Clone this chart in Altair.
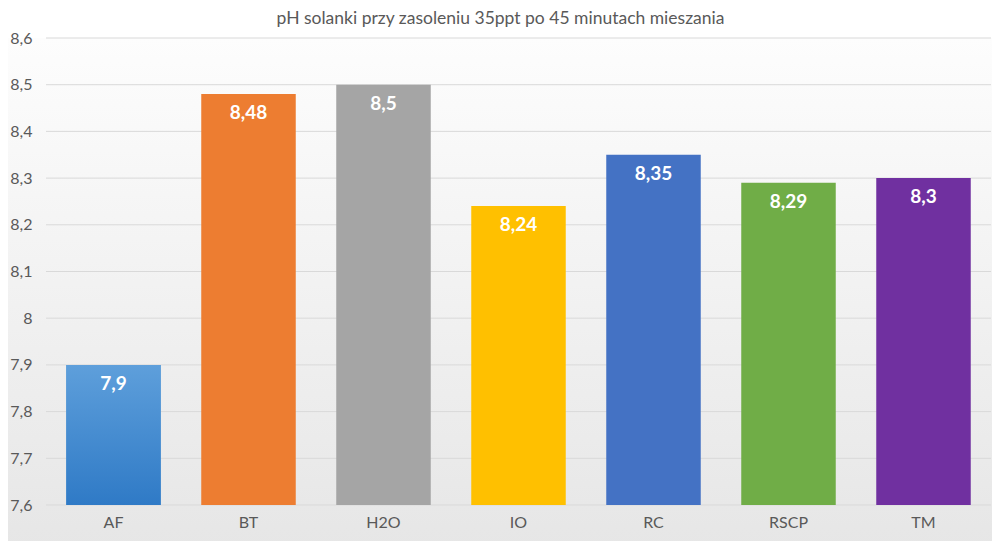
import altair as alt
import pandas as pd

categories = ["AF", "BT", "H2O", "IO", "RC", "RSCP", "TM"]
values = [7.9, 8.48, 8.5, 8.24, 8.35, 8.29, 8.3]
colors = ["#5b9bd5", "#ed7d31", "#a5a5a5", "#ffc000", "#4472c4", "#70ad47", "#7030a0"]
y_ticks = [7.6, 7.7, 7.8, 7.9, 8.0, 8.1, 8.2, 8.3, 8.4, 8.5, 8.6]
title_text = "pH solanki przy zasoleniu 35ppt po 45 minutach mieszania"

FONT = "Lato"
W, H = 945, 467

df = pd.DataFrame({"cat": categories, "val": values, "base": [7.6] * len(values)})
ticks_df = pd.DataFrame({"t": y_ticks})

yscale = alt.Scale(domain=[7.6, 8.6], zero=False, nice=False)
xscale = alt.Scale(domain=categories, paddingInner=0.3, paddingOuter=0.15)

bg = alt.Chart(pd.DataFrame({"a": [0]})).mark_rect(
    fill=alt.Gradient(
        gradient="linear", x1=0, y1=0, x2=0, y2=1,
        stops=[alt.GradientStop(color="#fdfdfd", offset=0),
               alt.GradientStop(color="#e6e6e6", offset=1)],
    )
).encode(x=alt.value(-60), x2=alt.value(W + 20), y=alt.value(0), y2=alt.value(H + 45))

grid = alt.Chart(ticks_df).mark_rule(color="#d9d9d9", strokeWidth=1).encode(
    y=alt.Y("t:Q", scale=yscale), x=alt.value(0), x2=alt.value(W)
)

bars = alt.Chart(df).mark_bar().encode(
    x=alt.X("cat:N", scale=xscale, sort=categories,
            axis=alt.Axis(title=None, labelFontSize=16, labelColor="#595959", labelFont=FONT,
                          domain=False, ticks=False, labelPadding=9, zindex=1, labelAngle=0)),
    y=alt.Y("val:Q", scale=yscale,
            axis=alt.Axis(title=None, values=y_ticks, grid=False, domain=False, ticks=False,
                          labelFontSize=16, labelColor="#595959", labelFont=FONT, labelPadding=14,
                          zindex=1,
                          labelExpr="replace(format(datum.value, '.2~f'), '.', ',')")),
    y2="base:Q",
    color=alt.Color("cat:N", scale=alt.Scale(domain=categories, range=colors), legend=None),
)

af = alt.Chart(df).transform_filter(alt.datum.cat == "AF").mark_bar(
    fill=alt.Gradient(
        gradient="linear", x1=0, y1=0, x2=0, y2=1,
        stops=[alt.GradientStop(color="#5e9fdb", offset=0),
               alt.GradientStop(color="#2f7ac6", offset=1)],
    )
).encode(x=alt.X("cat:N", scale=xscale, sort=categories), y=alt.Y("val:Q", scale=yscale), y2="base:Q")

labels = alt.Chart(df).transform_calculate(
    lab="replace(format(datum.val, '.2~f'), '.', ',')"
).mark_text(color="white", fontSize=19, fontWeight="bold", font=FONT, baseline="middle", dy=19).encode(
    x=alt.X("cat:N", scale=xscale, sort=categories), y=alt.Y("val:Q", scale=yscale), text="lab:N"
)

chart = alt.layer(bg, grid, bars, af, labels).properties(
    width=W, height=H,
    title=alt.TitleParams(title_text, fontSize=17.5, font=FONT, color="#595959", fontWeight="normal",
                          anchor="middle", offset=3, dx=-18, frame="group"),
    autosize=alt.AutoSizeParams(type="none"),
    padding={"left": 38, "top": 30, "right": 1, "bottom": 36},
).configure_view(stroke=None).configure(background="#ffffff")

chart.save("out.html", embed_options={"renderer": "svg", "actions": False})
